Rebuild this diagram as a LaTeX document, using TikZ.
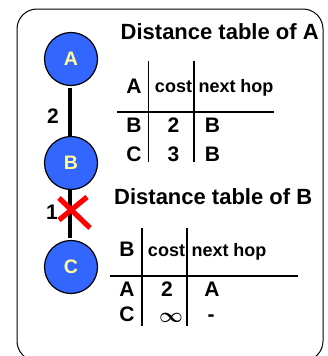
\documentclass[tikz,border=0pt]{standalone}
\usepackage{fontspec}
\setmainfont{Liberation Sans}
\tikzset{
 x=1pt,y=-1pt,
 router/.style={circle,draw=black,line width=1.2pt,fill=nodeblue,minimum size=53pt,inner sep=0pt,text=nodetext,font=\bfseries\fontsize{19.5}{20}\selectfont},
 link/.style={line width=4pt,draw=black},
 rule/.style={line width=1.2pt,draw=black},
 cell/.style={inner sep=0pt,anchor=base,text=black,font=\bfseries\boldmath\fontsize{21}{21}\selectfont},
 small/.style={inner sep=0pt,anchor=base,text=black,font=\bfseries\fontsize{18}{18}\selectfont},
 title/.style={inner sep=0pt,text=black,anchor=base west,font=\bfseries\fontsize{22}{22}\selectfont},
 cross/.style={line width=5.2pt,draw=crossred},
}
\definecolor{nodeblue}{RGB}{51,102,255}
\definecolor{nodetext}{RGB}{255,255,153}
\definecolor{crossred}{RGB}{255,0,0}
\begin{document}
\begin{tikzpicture}
\useasboundingbox (0,0) rectangle (328,356);
\clip (0,0) rectangle (328,356);
\fill[white] (0,0) rectangle (328,356);
\draw[line width=1pt,rounded corners=20pt] (17,9) rectangle (323,361);
% nodes
\node[router] (A) at (71,59) {A};
\node[router] (B) at (71,163) {B};
\node[router] (C) at (71,267) {C};
\coordinate (a1) at (70,88);
\coordinate (b1) at (70,137);
\coordinate (b2) at (70,189);
\coordinate (c1) at (70,238);
\draw[link] (a1) -- (b1);
\draw[link] (b2) -- (c1);
\node[cell] (w2) at (53,123) {2};
\node[cell] (w1) at (52,219) {1};
\coordinate (x1) at (59,198);
\coordinate (x2) at (90,228);
\coordinate (x3) at (87,197);
\coordinate (x4) at (59,220);
\draw[cross] (x1) -- (x2);
\draw[cross] (x3) -- (x4);
% table A
\node[title] (ta) at (120.5,39) {Distance table of A};
\coordinate (av1) at (148.5,61);
\coordinate (av2) at (148.5,162);
\coordinate (aw1) at (194,61);
\coordinate (aw2) at (194,162);
\coordinate (ah1) at (117,112);
\coordinate (ah2) at (274,112);
\draw[rule] (av1) -- (av2);
\draw[rule] (aw1) -- (aw2);
\draw[rule] (ah1) -- (ah2);
\node[cell] (aA) at (134,93) {A};
\node[small] (acost) at (173.5,92) {cost};
\node[small] (ahop) at (236,92) {next hop};
\node[cell] (aB) at (134,132) {B};
\node[cell] (a2) at (173.5,132) {2};
\node[cell] (aBh) at (212.5,132) {B};
\node[cell] (aC) at (134,161.5) {C};
\node[cell] (a3) at (173.5,161.5) {3};
\node[cell] (aBi) at (212.5,161.5) {B};
% table B
\node[title] (tb) at (114,204) {Distance table of B};
\coordinate (bv1) at (142,228);
\coordinate (bv2) at (142,326);
\coordinate (bw1) at (187,228);
\coordinate (bw2) at (187,326);
\coordinate (bh1) at (110,276);
\coordinate (bh2) at (298,276);
\draw[rule] (bv1) -- (bv2);
\draw[rule] (bw1) -- (bw2);
\draw[rule] (bh1) -- (bh2);
\node[cell] (bB) at (127,256) {B};
\node[small] (bcost) at (166.5,256) {cost};
\node[small] (bhop) at (229,256) {next hop};
\node[cell] (bA) at (127,296) {A};
\node[cell] (b22) at (167,296) {2};
\node[cell] (bAh) at (212,296) {A};
\node[cell] (bC) at (127,321) {C};
\node[cell,anchor=center] (binf) at (171,318) {$\infty$};
\node[cell] (bdash) at (211,321) {-};
\end{tikzpicture}
\end{document}
